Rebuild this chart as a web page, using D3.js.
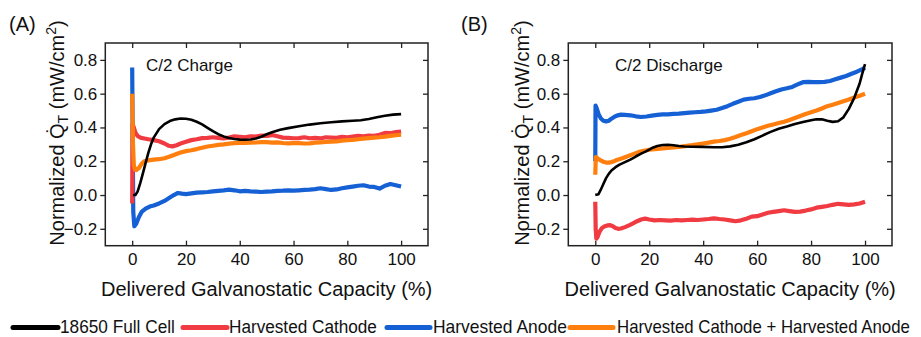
<!DOCTYPE html>
<html>
<head>
<meta charset="utf-8">
<script src="https://cdn.jsdelivr.net/npm/d3@7"></script>
<style>
  body { margin: 0; background: #fff; }
  svg { display: block; }
  text { font-family: "Liberation Sans", Arial, sans-serif; fill: #111; }
</style>
</head>
<body>
<svg id="chart" width="921" height="337"></svg>
<script>
// Normalized heat flow during C/2 galvanostatic cycling, [capacity %, mW/cm²]

// (A) C/2 charge
const chargeFullCell = [[0.3,0],[1.2,0.0],[2,0.02],[3,0.07],[4,0.13],[5,0.19],[6,0.25],[7,0.3],[8,0.34],[10,0.39],[12,0.42],[14,0.438],[16,0.448],[18,0.453],[20,0.452],[22,0.446],[24,0.434],[26,0.418],[28,0.398],[30,0.378],[32,0.36],[34,0.347],[36,0.338],[38,0.332],[40,0.328],[42,0.327],[44,0.329],[46,0.335],[48,0.345],[50,0.36],[52,0.372],[55,0.386],[58,0.396],[62,0.407],[66,0.417],[70,0.425],[74,0.431],[78,0.436],[82,0.44],[85,0.443],[88,0.45],[91,0.46],[94,0.469],[97,0.476],[100,0.479]];
const chargeCathode = [[0,-0.05],[0.15,0.42],[0.6,0.4],[1.2,0.37],[2,0.35],[3,0.34],[4.5,0.335],[6,0.33],[8,0.325],[10,0.318],[12,0.305],[13.5,0.292],[15,0.288],[16.5,0.295],[18,0.305],[20,0.315],[22,0.325],[24,0.33],[26,0.337],[28,0.338],[30,0.342],[32,0.338],[34,0.335],[36,0.34],[38,0.347],[40,0.345],[42,0.342],[44,0.348],[46,0.346],[48,0.352],[50,0.35],[52,0.355],[54,0.348],[56,0.34],[58,0.338],[60,0.336],[62,0.337],[64,0.342],[66,0.336],[68,0.338],[70,0.335],[72,0.342],[74,0.34],[76,0.338],[78,0.344],[80,0.342],[82,0.346],[84,0.35],[86,0.348],[88,0.352],[90,0.35],[92,0.357],[94,0.368],[96,0.366],[98,0.372],[100,0.376]];
const chargeAnode = [[0,0.755],[0.2,0.3],[0.4,-0.1],[0.8,-0.185],[1.5,-0.17],[2.5,-0.13],[3.5,-0.1],[5,-0.08],[6.5,-0.068],[8,-0.062],[10,-0.05],[12,-0.035],[14,-0.015],[15.5,0.0],[17,0.012],[18.5,0.008],[20,0.005],[22,0.01],[24,0.014],[26,0.016],[28,0.018],[30,0.022],[32,0.025],[34,0.028],[36,0.032],[38,0.028],[40,0.022],[42,0.025],[44,0.022],[46,0.02],[48,0.018],[50,0.02],[52,0.022],[54,0.025],[56,0.026],[58,0.028],[60,0.026],[62,0.028],[64,0.03],[66,0.032],[68,0.035],[70,0.04],[72,0.035],[74,0.03],[76,0.033],[78,0.04],[80,0.045],[82,0.05],[84,0.055],[86,0.058],[88,0.05],[90,0.048],[92,0.038],[94,0.055],[96,0.065],[98,0.058],[100,0.05]];
const chargeSum = [[0,0.6],[0.3,0.3],[0.6,0.18],[1,0.15],[1.5,0.148],[2.5,0.16],[3.5,0.185],[4.5,0.2],[6,0.205],[8,0.21],[10,0.212],[12,0.218],[14,0.228],[16,0.24],[18,0.252],[20,0.26],[22,0.265],[24,0.272],[26,0.28],[28,0.287],[30,0.292],[32,0.297],[34,0.3],[36,0.304],[38,0.307],[40,0.308],[42,0.308],[44,0.31],[46,0.311],[48,0.313],[50,0.313],[52,0.31],[54,0.312],[56,0.308],[58,0.306],[60,0.307],[62,0.307],[64,0.305],[66,0.306],[68,0.31],[70,0.312],[72,0.314],[74,0.316],[76,0.318],[78,0.322],[80,0.325],[82,0.326],[84,0.33],[86,0.334],[88,0.337],[90,0.34],[92,0.342],[94,0.346],[96,0.35],[98,0.354],[100,0.357]];

// (B) C/2 discharge
const dischargeFullCell = [[0,0],[1.2,0.005],[2,0.03],[3,0.065],[4,0.1],[5,0.125],[6,0.145],[7.5,0.165],[9,0.18],[11,0.195],[13,0.21],[15,0.228],[17,0.245],[19,0.26],[21,0.278],[23,0.29],[25,0.296],[27,0.298],[29,0.295],[31,0.29],[33,0.287],[36,0.286],[40,0.285],[44,0.283],[47,0.283],[50,0.288],[53,0.298],[56,0.312],[59,0.33],[62,0.352],[65,0.374],[68,0.392],[71,0.405],[74,0.42],[77,0.432],[80,0.443],[82,0.449],[84,0.448],[86,0.44],[88,0.433],[90,0.437],[92,0.46],[94,0.51],[96,0.575],[98,0.66],[99,0.72],[100,0.775]];
const dischargeCathode = [[0,-0.04],[0.15,-0.2],[0.4,-0.258],[0.8,-0.25],[1.5,-0.22],[2.5,-0.195],[3.5,-0.185],[4.5,-0.18],[5.5,-0.178],[6.5,-0.185],[7.5,-0.195],[8.5,-0.2],[9.5,-0.198],[11,-0.19],[12.5,-0.18],[14,-0.168],[15.5,-0.155],[17,-0.145],[18.5,-0.14],[20,-0.145],[22,-0.15],[24,-0.148],[26,-0.15],[28,-0.152],[30,-0.148],[32,-0.15],[34,-0.148],[36,-0.146],[38,-0.148],[40,-0.145],[42,-0.142],[44,-0.138],[46,-0.142],[48,-0.145],[50,-0.15],[52,-0.155],[54,-0.15],[56,-0.14],[58,-0.128],[60,-0.125],[62,-0.115],[64,-0.105],[66,-0.1],[68,-0.095],[70,-0.09],[72,-0.095],[74,-0.1],[76,-0.098],[78,-0.092],[80,-0.085],[82,-0.075],[84,-0.07],[86,-0.065],[88,-0.058],[90,-0.052],[92,-0.055],[94,-0.058],[96,-0.055],[98,-0.05],[100,-0.04]];
const dischargeAnode = [[0,0.2],[0.1,0.53],[0.6,0.51],[1.2,0.48],[2,0.455],[3,0.44],[4,0.436],[5,0.44],[6,0.452],[7,0.462],[8,0.47],[9.5,0.476],[11,0.474],[13,0.472],[15,0.466],[17,0.462],[19,0.465],[21,0.47],[23,0.474],[25,0.477],[27,0.478],[29,0.48],[31,0.482],[33,0.485],[35,0.488],[37,0.49],[39,0.492],[41,0.495],[43,0.5],[45,0.505],[47,0.515],[49,0.526],[51,0.54],[53,0.552],[55,0.565],[57,0.57],[59,0.573],[61,0.58],[63,0.59],[65,0.602],[67,0.614],[69,0.625],[71,0.632],[73,0.64],[75,0.655],[77,0.668],[79,0.67],[81,0.668],[83,0.668],[85,0.67],[87,0.675],[89,0.685],[91,0.695],[93,0.705],[95,0.718],[97,0.73],[99,0.745],[100,0.754]];
const dischargeSum = [[0,0.12],[0.2,0.225],[1,0.215],[2,0.205],[3,0.197],[4,0.192],[5,0.192],[6,0.195],[7,0.2],[8,0.208],[10,0.218],[12,0.23],[14,0.242],[16,0.254],[18,0.262],[20,0.268],[22,0.272],[24,0.275],[26,0.278],[28,0.28],[30,0.283],[32,0.287],[34,0.291],[36,0.295],[38,0.3],[40,0.305],[42,0.31],[44,0.316],[46,0.32],[48,0.325],[50,0.333],[52,0.343],[54,0.355],[56,0.366],[58,0.378],[60,0.39],[62,0.4],[64,0.41],[66,0.418],[68,0.426],[70,0.434],[72,0.444],[74,0.456],[76,0.468],[78,0.48],[80,0.49],[82,0.5],[84,0.512],[86,0.526],[88,0.535],[90,0.545],[92,0.555],[94,0.565],[96,0.577],[98,0.588],[100,0.6]];

// Axis ticks and legend
const xTicks = [0, 20, 40, 60, 80, 100];
const yTicks = [-0.2, 0, 0.2, 0.4, 0.6, 0.8];
const seriesNames = ["18650 Full Cell", "Harvested Cathode", "Harvested Anode", "Harvested Cathode + Harvested Anode"];
const seriesColors = ["#000000", "#ef3b41", "#1560d4", "#ff7f0e"];

const svg = d3.select("#chart");
const plotTop = 43, plotBottom = 245.7;

const panels = [
  { tag: "(A)", tagX: 9, note: "C/2 Charge", noteX: 146, left: 105.3, right: 428, titleX: 63.5,
    data: { full: chargeFullCell, cathode: chargeCathode, anode: chargeAnode, sum: chargeSum } },
  { tag: "(B)", tagX: 461, note: "C/2 Discharge", noteX: 615, left: 568.3, right: 892, titleX: 528.5,
    data: { full: dischargeFullCell, cathode: dischargeCathode, anode: dischargeAnode, sum: dischargeSum } }
];

panels.forEach(p => {
  const x = d3.scaleLinear().domain([-10, 110]).range([p.left, p.right]);
  const y = d3.scaleLinear().domain([-0.3, 0.9]).range([plotBottom, plotTop]);
  const g = svg.append("g");

  const styleAxis = a => {
    a.select(".domain").remove();
    a.selectAll(".tick line").attr("stroke", "#222").attr("stroke-width", 1.3);
    a.selectAll(".tick text").attr("font-size", 17).attr("fill", "#111")
      .style("font-family", '"Liberation Sans", Arial, sans-serif');
  };

  g.append("g").attr("transform", `translate(0,${plotBottom})`)
    .call(d3.axisBottom(x).tickValues(xTicks).tickSize(-5).tickPadding(7.5).tickFormat(d3.format("d")))
    .call(styleAxis);
  g.append("g").attr("transform", `translate(0,${plotTop})`)
    .call(d3.axisTop(x).tickValues(xTicks).tickSize(-5).tickFormat(""))
    .call(styleAxis);
  g.append("g").attr("transform", `translate(${p.left},0)`)
    .call(d3.axisLeft(y).tickValues(yTicks).tickSize(5).tickPadding(3).tickFormat(d3.format(".1f")))
    .call(styleAxis);
  g.append("g").attr("transform", `translate(${p.right},0)`)
    .call(d3.axisRight(y).tickValues(yTicks).tickSize(-5).tickFormat(""))
    .call(styleAxis);

  // series: anode, cathode, sum, then full cell on top
  const line = d3.line().x(d => x(d[0])).y(d => y(d[1]));
  const order = [["anode", 2, 4.2], ["cathode", 1, 4.2], ["sum", 3, 4.2], ["full", 0, 2.6]];
  order.forEach(([key, ci, w]) => {
    g.append("path").datum(p.data[key])
      .attr("d", line)
      .attr("fill", "none")
      .attr("stroke", seriesColors[ci])
      .attr("stroke-width", w)
      .attr("stroke-linejoin", "round");
  });

  // frame
  g.append("rect").attr("x", p.left).attr("y", plotTop)
    .attr("width", p.right - p.left).attr("height", plotBottom - plotTop)
    .attr("fill", "none").attr("stroke", "#222").attr("stroke-width", 1.5);

  g.append("text").attr("x", p.noteX).attr("y", 71).attr("font-size", 17).text(p.note);
  g.append("text").attr("x", p.tagX).attr("y", 31).attr("font-size", 20).text(p.tag);

  g.append("text").attr("x", (p.left + p.right) / 2).attr("y", 295.5)
    .attr("text-anchor", "middle").attr("font-size", 20)
    .text("Delivered Galvanostatic Capacity (%)");

  const yt = g.append("text")
    .attr("transform", `translate(${p.titleX},133) rotate(-90)`)
    .attr("text-anchor", "middle").attr("font-size", 20);
  yt.append("tspan").text("Normalized Q\u0307");
  yt.append("tspan").attr("font-size", 14).attr("dy", 4).text("T");
  yt.append("tspan").attr("dy", -4).text(" (mW/cm");
  yt.append("tspan").attr("font-size", 14).attr("dy", -8).text("2");
  yt.append("tspan").attr("dy", 8).text(")");
});

// legend: narrow lettering, each label squeezed horizontally to its slot width
const legendLines = [[13, 58], [183, 227], [387, 430], [570, 613]];
const legendText = [[60, 115], [229, 148], [433, 134], [617, 293]];
const lg = svg.append("g");
seriesNames.forEach((name, i) => {
  lg.append("line")
    .attr("x1", legendLines[i][0]).attr("x2", legendLines[i][1])
    .attr("y1", 327.5).attr("y2", 327.5)
    .attr("stroke", seriesColors[i]).attr("stroke-width", 5).attr("stroke-linecap", "round");
  const t = lg.append("text")
    .attr("x", 0).attr("y", 0)
    .attr("font-size", 18)
    .text(name);
  const natural = t.node().getComputedTextLength();
  const sx = legendText[i][1] / natural;
  t.attr("transform", `translate(${legendText[i][0]},332.5) scale(${sx},1)`);
});
</script>
</body>
</html>
